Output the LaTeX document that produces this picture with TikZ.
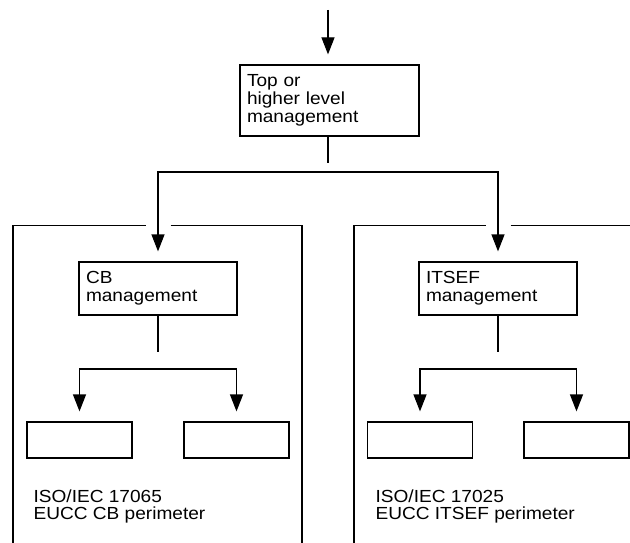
\documentclass[tikz,border=0pt]{standalone}
\usepackage{fontspec}
\setmainfont{Liberation Sans}[FakeStretch=1.09]
\usetikzlibrary{arrows.meta}
\usetikzlibrary{calc}
\usetikzlibrary{positioning}

\tikzset{
	mgmtbox/.style={draw, align=left, inner xsep=7pt, inner ysep=0pt},
	unitbox/.style={draw, minimum width=105pt, minimum height=36pt, inner sep=0pt},
	pertext/.style={anchor=north west, align=left, inner sep=0pt, font=\fontsize{17.5}{16.5}\selectfont}
}

\begin{document}
\begin{tikzpicture}[x=1pt, y=-1pt]
	\useasboundingbox (0,0) rectangle (630,543);
	\begin{scope}[>={Triangle[length=17pt,width=13pt]}, line width=1.2pt, line join=miter, font=\fontsize{17.5}{18}\selectfont]

	\node[mgmtbox, text width=165pt, minimum height=71pt] (top) at (329.5,100.5) {Top or\\higher level\\management};
	\node[mgmtbox, text width=144pt, minimum height=53pt] (cb) at (158,288.5) {CB\\management};
	\node[mgmtbox, text width=144pt, minimum height=53pt] (itsef) at (498,288.5) {ITSEF\\management};

\foreach \n/\x in {cbl/79.5,cbr/236.5,itl/420,itr/576.5}
{
	\node[unitbox] (\n) at (\x,440) {};
}

	\node[pertext] (cbper) at (33,489.5) {ISO/IEC 17065\\EUCC CB perimeter};
	\node[pertext] (itper) at (375,489.5) {ISO/IEC 17025\\EUCC ITSEF perimeter};

	% perimeters
	\draw (145.5,225.5) -| (13,543);
	\draw (170.5,225.5) -| (302,543);
	\draw (485.5,225.5) -| (354,543);
	\draw (510.5,225.5) -- (630,225.5);

	\coordinate (in) at (328,10);
	\coordinate (split) at (328,172);
	\coordinate (cbsplit) at (158,369);
	\coordinate (itsplit) at (498,369);

	\draw[->, shorten >=10pt] (in) -- (in |- top.north);
	\draw (top.south -| in) -- ++(0,26);
	\draw[<->, shorten <=10pt, shorten >=10pt] (cb.north) |- (split) -| (itsef.north);

	\draw (cb.south) -- ++(0,36);
	\draw[<->, shorten <=10pt, shorten >=10pt] (cbl.north) |- (cbsplit) -| (cbr.north);
	\draw (itsef.south) -- ++(0,36);
	\draw[<->, shorten <=10pt, shorten >=10pt] (itl.north) |- (itsplit) -| (itr.north);

	\end{scope}
\end{tikzpicture}
\end{document}
